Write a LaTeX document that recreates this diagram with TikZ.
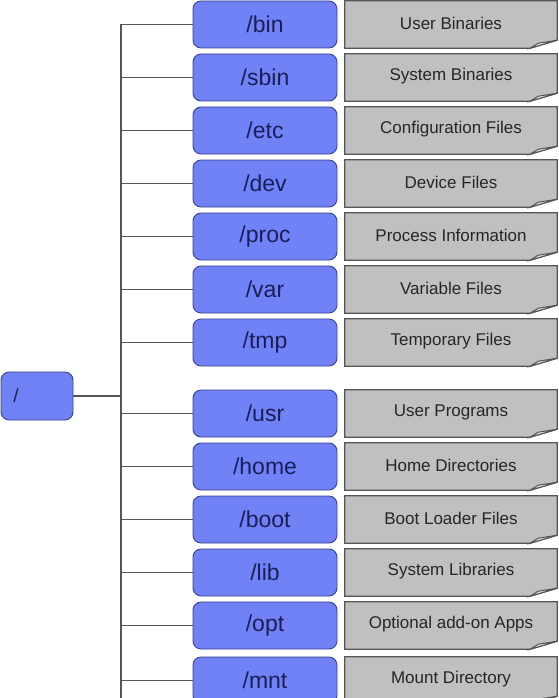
\documentclass[tikz,border=0pt]{standalone}
\usepackage{fontspec}
\setmainfont{Liberation Sans}
\definecolor{dirblue}{RGB}{112,130,245}
\definecolor{dirborder}{RGB}{55,65,140}
\definecolor{dirtext}{RGB}{25,30,90}
\definecolor{notegray}{RGB}{192,192,192}
\definecolor{foldgray}{RGB}{225,225,225}
\definecolor{lineg}{RGB}{85,85,85}
\begin{document}
\begin{tikzpicture}[x=1pt,y=-1pt,
  dirbox/.style={draw=dirborder, line width=0.9pt, fill=dirblue, rounded corners=8pt,
    minimum width=144pt, minimum height=47pt, inner sep=0pt, text=dirtext,
    font=\fontsize{23}{23}\selectfont},
  notebox/.style={minimum width=212pt, minimum height=47pt, inner sep=0pt},
  noteshape/.style={draw=lineg, line width=1.3pt, fill=notegray, line join=miter},
  foldshape/.style={draw=lineg, line width=1pt, fill=foldgray},
  notetext/.style={text=black!85, font=\fontsize{17}{17}\selectfont, inner sep=0pt},
  conn/.style={draw=lineg, line width=1.6pt}]
\fill[white] (0,0) rectangle (558,698);
\useasboundingbox (0,0) rectangle (558,698);
\clip (0,0) rectangle (558,698);
% trunk
\coordinate (trunktop) at (121,24.5);
\coordinate (trunkbot) at (121,720);
\draw[conn] (trunktop) -- (trunkbot);
% root
\node[dirbox, minimum width=72pt, minimum height=48pt] (root) at (37,396) {};
\node[text=dirtext, font=\fontsize{19}{19}\selectfont, inner sep=0pt] (rootlabel) at (16,396) {/};
\draw[conn] (root.east) -- (root.east -| trunktop);
% rows
\foreach \i/\t/\d/\n in {1/1/bin/User Binaries,
  2/54/sbin/System Binaries,
  3/107/etc/Configuration Files,
  4/160/dev/Device Files,
  5/213/proc/Process Information,
  6/266/var/Variable Files,
  7/319/tmp/Temporary Files,
  8/390/usr/User Programs,
  9/443/home/Home Directories,
  10/496/boot/Boot Loader Files,
  11/549/lib/System Libraries,
  12/602/opt/Optional add-on Apps,
  13/657/mnt/Mount Directory}{
  \node[dirbox] (b\i) at (265,\t+23.5) {/\d};
  \draw[conn] (b\i.west -| trunktop) -- (b\i.west);
  \node[notebox] (g\i) at (451,\t+23.5) {};
  \path[noteshape] (g\i.north west) -- (g\i.north east) -- ([yshift=8pt]g\i.south east)
     -- ([xshift=-27pt]g\i.south east) -- (g\i.south west) -- cycle;
  \path[foldshape] ([xshift=-27pt]g\i.south east) -- ([xshift=-19pt,yshift=5pt]g\i.south east)
     -- ([yshift=8pt]g\i.south east) -- cycle;
  \node[notetext] (t\i) at ([yshift=1.5pt]g\i.center) {\n};
}
\end{tikzpicture}
\end{document}
